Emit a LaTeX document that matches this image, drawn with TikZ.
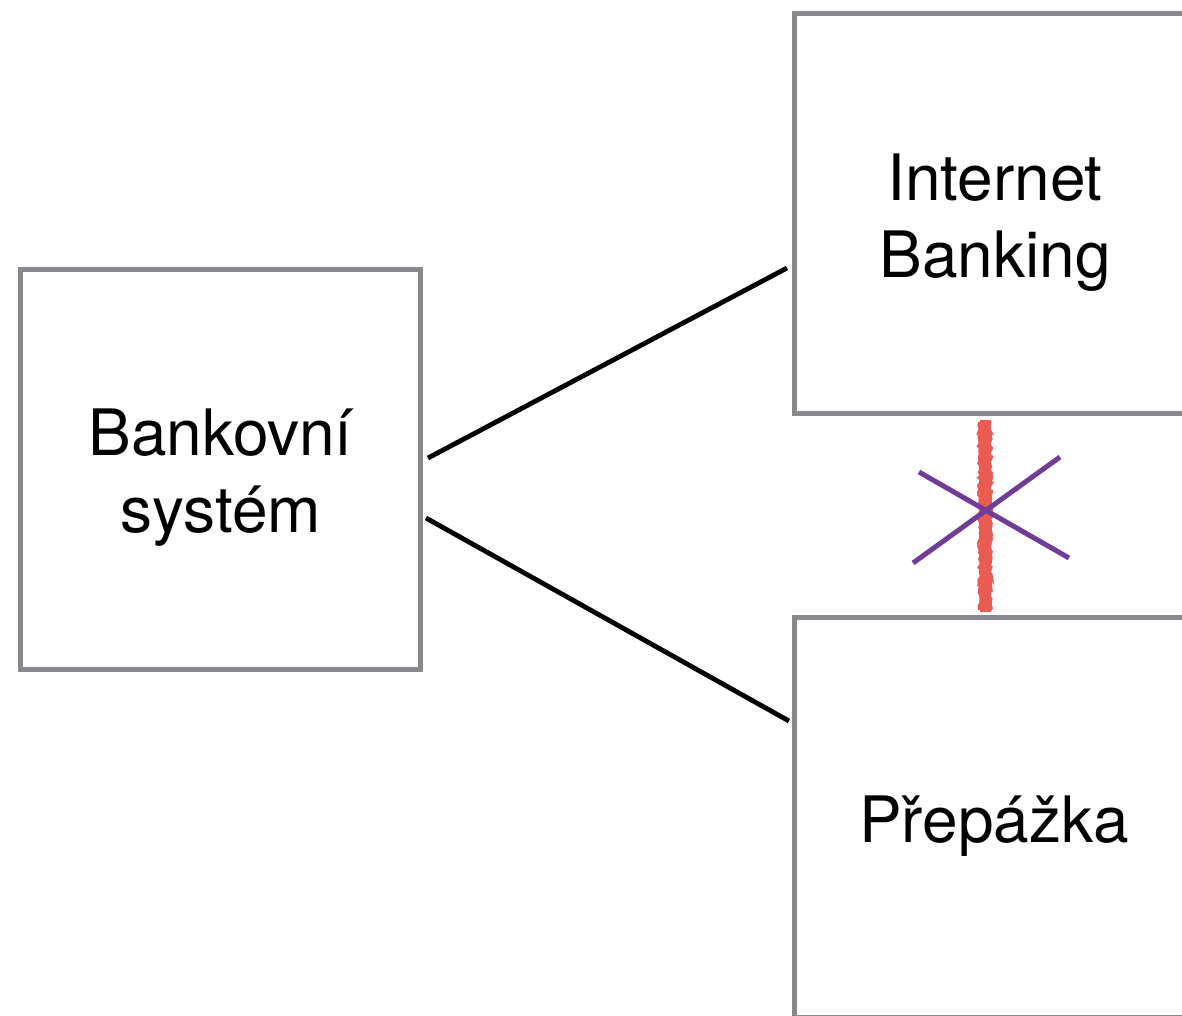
\documentclass[tikz,border=0pt]{standalone}
\usepackage{fontspec}
\setmainfont{TeX Gyre Heros}
\usetikzlibrary{calc,decorations.pathmorphing}
\definecolor{boxgray}{RGB}{135,137,140}
\definecolor{chalkred}{RGB}{234,92,82}
\definecolor{crosspurple}{RGB}{112,60,150}
\tikzset{
  sysbox/.style={draw=boxgray, line width=5pt, minimum width=400pt, minimum height=400pt, inner sep=0pt, outer sep=0pt},
  boxtext/.style={align=center, inner sep=0pt, font=\fontsize{64}{77}\selectfont},
  link/.style={line width=4.8pt, black},
  chalk/.style={line width=11pt, chalkred},
  crossline/.style={line width=5pt, crosspurple}
}
\begin{document}
\begin{tikzpicture}[x=1pt,y=-1pt]
\useasboundingbox (0,0) rectangle (1182,1015);
\clip (0,0) rectangle (1182,1015);
\fill[white] (0,0) rectangle (1182,1015);
\node[sysbox] (bank) at (220.5,469) {};
\node[sysbox] (ib) at (994,213.5) {};
\node[sysbox] (pp) at (994,817) {};
\node[boxtext] (banktext) at ($(bank.center)+(0,9)$) {Bankovní\\systém};
\node[boxtext] (ibtext) at ($(ib.center)+(1,9)$) {Internet\\Banking};
\node[boxtext] (pptext) at ($(pp.center)+(0,9)$) {Přepážka};
\draw[link] ($(bank.east)+(7.5,-11)$) -- ($(ib.west)+(-7,54.5)$);
\draw[link] ($(bank.east)+(5.5,49)$) -- ($(pp.west)+(-5,-96)$);
\coordinate (rtop) at (985,420);
\coordinate (rbot) at (985,612);
\draw[chalk] (rtop) -- (rbot);
\draw[chalkred, line width=2.5pt, decorate, decoration={random steps, segment length=2.5pt, amplitude=1.5pt}] ($(rtop)+(-5.5,2)$) -- ($(rbot)+(-5.5,-2)$);
\draw[chalkred, line width=2.5pt, decorate, decoration={random steps, segment length=2.5pt, amplitude=1.5pt}] ($(rtop)+(5.5,2)$) -- ($(rbot)+(5.5,-2)$);
\coordinate (xa1) at (919,472);
\coordinate (xa2) at (1069,558);
\coordinate (xb1) at (1060,457);
\coordinate (xb2) at (913,563);
\draw[crossline] (xa1) -- (xa2);
\draw[crossline] (xb1) -- (xb2);
\end{tikzpicture}
\end{document}
